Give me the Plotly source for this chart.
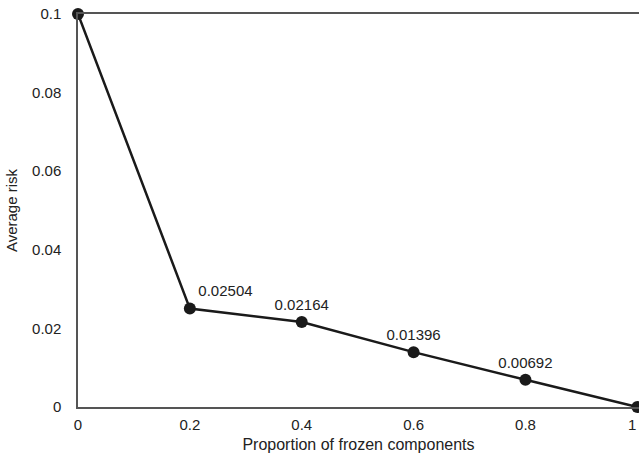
import plotly.graph_objects as go

x_vals = [0, 0.2, 0.4, 0.6, 0.8, 1.0]
risk = [0.1, 0.02504, 0.02164, 0.01396, 0.00692, 0.0]
labels = ["", "0.02504", "0.02164", "0.01396", "0.00692", ""]
positions = ["top center", "top right", "top center", "top center", "top center", "top center"]
x_ticks = [0, 0.2, 0.4, 0.6, 0.8, 1]
x_tick_text = ["0", "0.2", "0.4", "0.6", "0.8", "1"]
y_ticks = [0, 0.02, 0.04, 0.06, 0.08, 0.1]
y_tick_text = ["0", "0.02", "0.04", "0.06", "0.08", "0.1"]

FONT = "Liberation Sans, Arial"
FS = 15

fig = go.Figure()
fig.add_trace(go.Scatter(
    x=x_vals, y=risk, mode="lines+markers+text",
    text=labels, textposition=positions,
    textfont=dict(family=FONT, size=FS, color="#222"),
    line=dict(color="#1a1a1a", width=2.5),
    marker=dict(color="#1a1a1a", size=12),
    cliponaxis=False, showlegend=False,
))

# last x tick label, at the right edge as in the reference
fig.add_annotation(x=x_ticks[-1], y=0, xref="x", yref="y", text=x_tick_text[-1],
                   showarrow=False, yshift=-17, xanchor="right", xshift=1,
                   font=dict(family=FONT, size=FS, color="#222"))

fig.update_layout(
    width=639, height=455,
    margin=dict(l=78, r=0, t=14, b=48),
    plot_bgcolor="white", paper_bgcolor="white",
    font=dict(family=FONT, size=FS, color="#222"),
    xaxis=dict(
        range=[0, 1.003], tickvals=x_ticks, ticktext=x_tick_text,
        showgrid=False, zeroline=False, showline=True, linecolor="#555", linewidth=1.5,
        mirror=True, ticks="", ticklabelstandoff=3,
        title=dict(text="Proportion of frozen components", standoff=7, font=dict(size=16)),
    ),
    yaxis=dict(
        range=[0, 0.1], tickvals=y_ticks, ticktext=y_tick_text,
        showgrid=False, zeroline=False, showline=True, linecolor="#555", linewidth=1.5,
        ticks="", ticklabelstandoff=12,
        title=dict(text="Average risk", standoff=11, font=dict(size=FS)),
    ),
)

fig.write_html("out.html")
